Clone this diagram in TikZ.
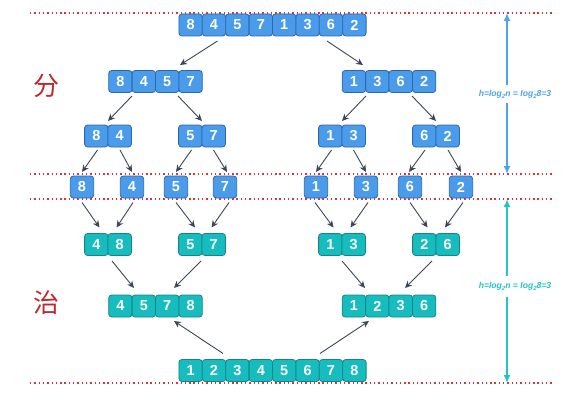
\documentclass[tikz,border=0pt]{standalone}
\usepackage{fontspec}
\setmainfont{Liberation Sans}
\newfontfamily\cjk{Noto Sans CJK SC}
\usetikzlibrary{arrows.meta}
\definecolor{bfill}{HTML}{4A9BEA}
\definecolor{bline}{HTML}{2C67AE}
\definecolor{tfill}{HTML}{17BDBE}
\definecolor{tline}{HTML}{138587}
\definecolor{arrc}{HTML}{3B4658}
\definecolor{redc}{HTML}{C0282D}
\definecolor{dotc}{HTML}{D8343C}
\definecolor{hblue}{HTML}{4DA3EE}
\definecolor{hteal}{HTML}{22C4C6}
\tikzset{
  cell/.style={rounded corners=3pt, minimum width=23.4pt, minimum height=22pt, inner sep=0pt,
    line width=0.8pt, text=white, font=\bfseries\fontsize{14.5}{14.5}\selectfont},
  bcell/.style={cell, draw=bline, fill=bfill},
  tcell/.style={cell, draw=tline, fill=tfill},
  arr/.style={draw=arrc, line width=0.9pt, -{Stealth[length=7pt,width=6.5pt]}},
  dotline/.style={draw=dotc, line width=1.3pt, dash pattern=on 1.4pt off 2.9pt},
  harr/.style={line width=1.6pt, -{Latex[length=8pt,width=7pt]}},
  hlab/.style={font=\bfseries\itshape\fontsize{8.6}{8.6}\selectfont, inner sep=0pt},
  han/.style={text=redc, font=\cjk\fontsize{26}{26}\selectfont, inner sep=0pt}
}
\newcommand\sbs[1]{\raisebox{-0.45ex}{\fontsize{6}{6}\selectfont #1}}
\newcommand\grp[6]{%
  \node[minimum width=#5*23.4pt, minimum height=22pt, inner sep=0pt, outer sep=0pt] (#1) at (#2,#3) {};
  \foreach \v [count=\i] in {#6} {
    \node[#4] (#1-\i) at ({#2+(\i-(#5+1)/2)*23.4},#3) {\v};
  }%
}
\begin{document}
\begin{tikzpicture}[x=1pt,y=-1pt]
\useasboundingbox (0,0) rectangle (588,409);
% dotted separators
\coordinate (d1l) at (30,13);  \coordinate (d1r) at (553,13);
\coordinate (d2l) at (30,174); \coordinate (d2r) at (553,174);
\coordinate (d3l) at (30,199); \coordinate (d3r) at (553,199);
\coordinate (d4l) at (30,383); \coordinate (d4r) at (553,383);
\draw[dotline] (d1l) -- (d1r);
\draw[dotline] (d2l) -- (d2r);
\draw[dotline] (d3l) -- (d3r);
\draw[dotline] (d4l) -- (d4r);
% divide
\grp{top}{272.5}{25}{bcell}{8}{8,4,5,7,1,3,6,2}
\grp{La}{155.5}{81.5}{bcell}{4}{8,4,5,7}
\grp{Lb}{389}{81.5}{bcell}{4}{1,3,6,2}
\grp{Ma}{108}{136}{bcell}{2}{8,4}
\grp{Mb}{202}{136}{bcell}{2}{5,7}
\grp{Mc}{342}{136}{bcell}{2}{1,3}
\grp{Md}{436}{136}{bcell}{2}{6,2}
\grp{Sa}{82}{187}{bcell}{1}{8}
\grp{Sb}{132}{187}{bcell}{1}{4}
\grp{Sc}{176}{187}{bcell}{1}{5}
\grp{Sd}{225}{187}{bcell}{1}{7}
\grp{Se}{316}{187}{bcell}{1}{1}
\grp{Sf}{366}{187}{bcell}{1}{3}
\grp{Sg}{410}{187}{bcell}{1}{6}
\grp{Sh}{461}{187}{bcell}{1}{2}
% conquer
\grp{Ca}{108}{244.5}{tcell}{2}{4,8}
\grp{Cb}{202}{244.5}{tcell}{2}{5,7}
\grp{Cc}{342}{244.5}{tcell}{2}{1,3}
\grp{Cd}{436}{244.5}{tcell}{2}{2,6}
\grp{Da}{155.5}{306}{tcell}{4}{4,5,7,8}
\grp{Db}{389}{306}{tcell}{4}{1,2,3,6}
\grp{bot}{272.5}{370.5}{tcell}{8}{1,2,3,4,5,6,7,8}
% divide arrows
\draw[arr] ([xshift=-55pt,yshift=-5pt]top.south) -- ([xshift=24.5pt,yshift=5.5pt]La.north);
\draw[arr] ([xshift=54.5pt,yshift=-5pt]top.south) -- ([xshift=-26pt,yshift=5.5pt]Lb.north);
\draw[arr] ([xshift=-23.5pt,yshift=-3.5pt]La.south) -- ([yshift=4pt]Ma.north);
\draw[arr] ([xshift=22.5pt,yshift=-3.5pt]La.south) -- ([yshift=4pt]Mb.north);
\draw[arr] ([xshift=-23pt,yshift=-3.5pt]Lb.south) -- ([yshift=4pt]Mc.north);
\draw[arr] ([xshift=23pt,yshift=-3.5pt]Lb.south) -- ([yshift=4pt]Md.north);
\draw[arr] ([xshift=-10.5pt,yshift=-3pt]Ma.south) -- ([yshift=4pt]Sa.north);
\draw[arr] ([xshift=12pt,yshift=-3pt]Ma.south) -- ([yshift=4pt]Sb.north);
\draw[arr] ([xshift=-10.5pt,yshift=-3pt]Mb.south) -- ([yshift=4pt]Sc.north);
\draw[arr] ([xshift=11.5pt,yshift=-3pt]Mb.south) -- ([xshift=2pt,yshift=4pt]Sd.north);
\draw[arr] ([xshift=-10.5pt,yshift=-3pt]Mc.south) -- ([yshift=4pt]Se.north);
\draw[arr] ([xshift=11.5pt,yshift=-3pt]Mc.south) -- ([yshift=4pt]Sf.north);
\draw[arr] ([xshift=-11pt,yshift=-3pt]Md.south) -- ([xshift=-1pt,yshift=4pt]Sg.north);
\draw[arr] ([xshift=12pt,yshift=-3pt]Md.south) -- ([yshift=4pt]Sh.north);
% conquer arrows
\draw[arr] ([yshift=-4.5pt]Sa.south) -- ([xshift=-8.5pt,yshift=6pt]Ca.north);
\draw[arr] ([xshift=1pt,yshift=-4.5pt]Sb.south) -- ([xshift=8.5pt,yshift=6pt]Ca.north);
\draw[arr] ([yshift=-4.5pt]Sc.south) -- ([xshift=-7pt,yshift=6pt]Cb.north);
\draw[arr] ([xshift=4pt,yshift=-4.5pt]Sd.south) -- ([xshift=9.5pt,yshift=6pt]Cb.north);
\draw[arr] ([xshift=-1pt,yshift=-4.5pt]Se.south) -- ([xshift=-8.5pt,yshift=6pt]Cc.north);
\draw[arr] ([xshift=2pt,yshift=-4.5pt]Sf.south) -- ([xshift=8.5pt,yshift=6pt]Cc.north);
\draw[arr] ([xshift=0pt,yshift=-4.5pt]Sg.south) -- ([xshift=-8.5pt,yshift=6pt]Cd.north);
\draw[arr] ([xshift=2pt,yshift=-4.5pt]Sh.south) -- ([xshift=9pt,yshift=6pt]Cd.north);
\draw[arr] ([xshift=4pt,yshift=-5.5pt]Ca.south) -- ([xshift=-21.5pt,yshift=7pt]Da.north);
\draw[arr] ([xshift=-1pt,yshift=-5.5pt]Cb.south) -- ([xshift=18.5pt,yshift=7pt]Da.north);
\draw[arr] ([xshift=0pt,yshift=-5.5pt]Cc.south) -- ([xshift=-24pt,yshift=7pt]Db.north);
\draw[arr] ([xshift=-4pt,yshift=-5.5pt]Cd.south) -- ([xshift=16pt,yshift=7pt]Db.north);
\draw[arr] ([xshift=-49.5pt,yshift=6pt]bot.north) -- ([xshift=18.5pt,yshift=-4pt]Da.south);
\draw[arr] ([xshift=47.5pt,yshift=6pt]bot.north) -- ([xshift=-20pt,yshift=-4pt]Db.south);
% Chinese labels
\node[han] (fen) at (46,86) {分};
\node[han] (zhi) at (46,303) {治};
% height annotations
\node[hlab, text=hblue] (h1) at (515,94) {h=log\sbs{2}n = log\sbs{2}8=3};
\node[hlab, text=hteal] (h2) at (515,286.5) {h=log\sbs{2}n = log\sbs{2}8=3};
\coordinate (h1t) at (507,13);  \coordinate (h1u) at (507,85);
\coordinate (h1v) at (507,103); \coordinate (h1b) at (507,174);
\coordinate (h2t) at (507,199); \coordinate (h2u) at (507,275.5);
\coordinate (h2v) at (507,297); \coordinate (h2b) at (507,383);
\draw[harr, draw=hblue, fill=hblue] (h1u) -- (h1t);
\draw[harr, draw=hblue, fill=hblue] (h1v) -- (h1b);
\draw[harr, draw=hteal, fill=hteal] (h2u) -- (h2t);
\draw[harr, draw=hteal, fill=hteal] (h2v) -- (h2b);
\end{tikzpicture}
\end{document}
